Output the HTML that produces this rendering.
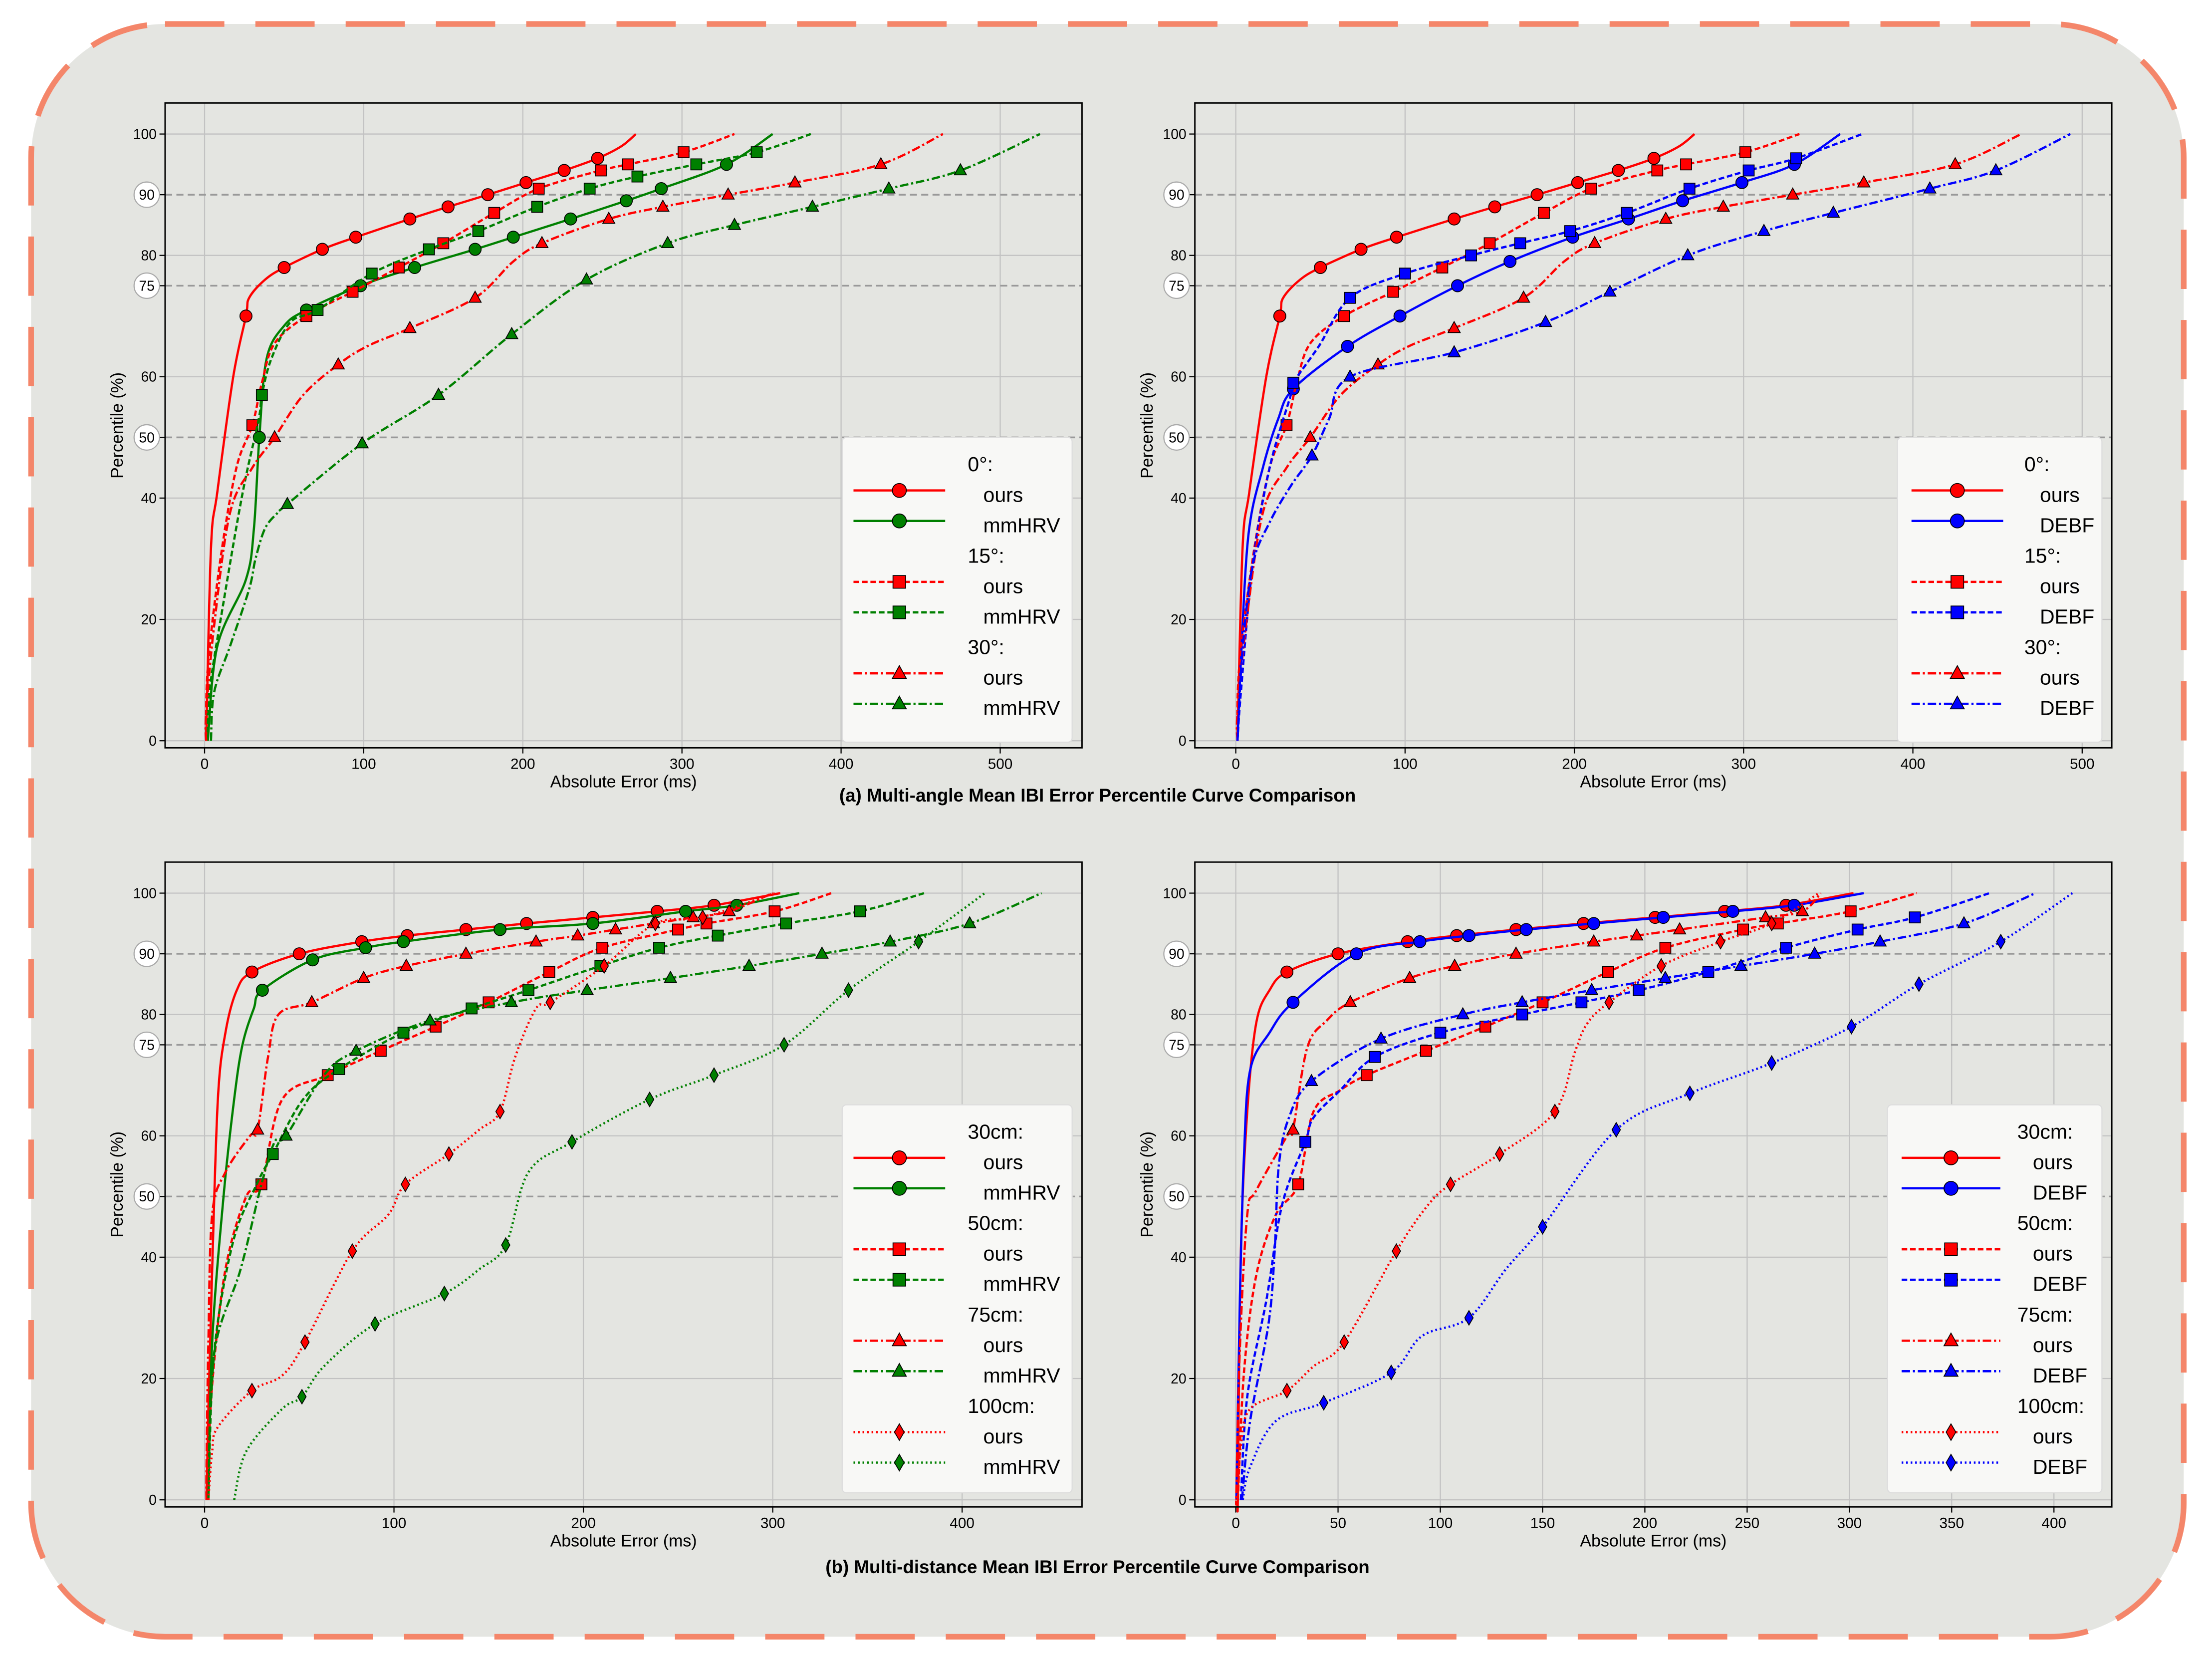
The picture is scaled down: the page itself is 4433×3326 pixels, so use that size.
<!DOCTYPE html>
<html><head><meta charset="utf-8"><style>
html,body{margin:0;padding:0;background:#fff;}
svg{display:block;font-family:"Liberation Sans","DejaVu Sans",sans-serif;}
</style></head><body>
<svg id="fig" width="4433" height="3326" viewBox="0 0 1568 1176.5" xmlns="http://www.w3.org/2000/svg">
<rect x="22" y="17" width="1526" height="1143" rx="95" ry="95" fill="#e4e5e1" stroke="#f4866a" stroke-width="4" stroke-dasharray="42,22"/>
<text x="778" y="568" text-anchor="middle" font-size="13" font-weight="bold">(a) Multi-angle Mean IBI Error Percentile Curve Comparison</text>
<text x="778" y="1115" text-anchor="middle" font-size="13" font-weight="bold">(b) Multi-distance Mean IBI Error Percentile Curve Comparison</text>
<g id="panels"></g>
</svg>
<script>
// ---- data (x = absolute error ms, y = percentile) ----
const oursAngle0 = [[1,0],[4,31.7],[8,41],[18,60],[26,70],[28,73],[38,76],[50,78],[74,81],[95,83],[129,86],[153,88],[178,90],[202,92],[226,94],[247,96],[262,98],[271,100]];
const oursAngle0Mk = [26,50,74,95,129,153,178,202,226,247];
const mmAngle0 = [[2,0],[8,15.6],[26,26.6],[31,35],[34.4,50],[39,63],[50,68.4],[64,71],[98,75],[132,78],[170,81],[194,83],[230,86],[265,89],[287,91],[328,95],[357,100]];
const mmAngle0Mk = [34.4,64,98,132,170,194,230,265,287,328];
const oursAngle15 = [[1,0],[2,12],[10,30],[20,45],[30,52],[36,59],[44,65.5],[64,70],[93,74],[122,78],[150,82],[182,87],[210,91],[249,94],[266,95],[301,97],[333,100]];
const oursAngle15Mk = [30,64,93,122,150,182,210,249,266,301];
const mmAngle15 = [[2,0],[3,8],[12,23],[24,41],[34,53],[36,57],[42,63],[54,69],[71,71],[105,77],[141,81],[172,84],[209,88],[242,91],[272,93],[309,95],[347,97],[381,100]];
const mmAngle15Mk = [36,71,105,141,172,209,242,272,309,347];
const oursAngle30 = [[1,0],[1,4.5],[6,19],[16,37.6],[30,45],[44,50],[62,57],[84,62],[102,65],[129,68],[170,73],[194,79],[212,82],[254,86],[288,88],[329,90],[371,92],[425,95],[464,100]];
const oursAngle30Mk = [44,84,129,170,212,254,288,329,371,425];
const mmAngle30 = [[4,0],[6,8],[16,15.6],[28,25],[32,30],[38,35],[46,37.6],[52,39],[99,49],[147,57],[193,67],[240,76],[291,82],[333,85],[382,88],[430,91],[475,94],[525,100]];
const mmAngle30Mk = [52,99,147,193,240,291,333,382,430,475];
const debfAngle0 = [[1,0],[3,13],[7.5,34],[16,45],[25,53],[34,58],[66,65],[97,70],[131,75],[162,79],[199,83],[232,86],[264,89],[299,92],[330,95],[357,100]];
const debfAngle0Mk = [34,66,97,131,162,199,232,264,299,330];
const debfAngle15 = [[1,0],[3,8],[10,29],[20,45],[32.5,57],[34,59],[49,65],[67.5,73],[100,77],[139,80],[168,82],[197.5,84],[231,87],[268,91],[303,94],[331,96],[370,100]];
const debfAngle15Mk = [34,67.5,100,139,168,197.5,231,268,303,331];
const debfAngle30 = [[1,0],[4,15],[10,29],[20,36],[32.5,42],[45,47],[55,53],[67.5,60],[129,64],[183,69],[221,74],[267,80],[312,84],[353,87],[410,91],[449,94],[493,100]];
const debfAngle30Mk = [45,67.5,129,183,221,267,312,353,410,449];

const oursD30 = [[1,0],[2,15],[4,38],[7,66],[11,77],[17,84],[25,87],[50,90],[83,92],[107,93],[138,94],[170,95],[205,96],[239,97],[269,98],[304,100]];
const oursD30Mk = [25,50,83,107,138,170,205,239,269];
const mmD30 = [[2,0],[4,26],[10,50],[15.6,66],[20,75],[26,81],[30.5,84],[57,89],[85,91],[105,92],[156,94],[205,95],[254,97],[281,98],[314,100]];
const mmD30Mk = [30.5,57,85,105,156,205,254,281];
const oursD50 = [[1,0.7],[4,19],[11,38],[22,50],[30,52],[41,66],[65,70],[93,74],[122,78],[150,82],[182,87],[210,91],[250,94],[265,95],[301,97],[331,100]];
const oursD50Mk = [30,65,93,122,150,182,210,250,265,301];
const mmD50 = [[2,0],[5,24],[15,42.5],[27.5,52],[36,57],[52,66],[71,71],[105,77],[141,81],[171,84],[209,88],[240,91],[271,93],[307,95],[346,97],[380,100]];
const mmD50Mk = [36,71,105,141,171,209,240,271,307,346];
const oursD75 = [[1,0],[1,5],[2,26],[4,47],[11,54],[24,60],[28,61],[33.5,73],[39,80],[56.6,82],[84,86],[106.5,88],[138,90],[175,92],[197,93],[217,94],[237,95],[258,96],[277,97],[300,100]];
const oursD75Mk = [28,56.6,84,106.5,138,175,197,217,237,258,277];
const mmD75 = [[2,0],[5,24],[19,38],[30,52],[37,59],[43,60],[63,70],[80,74],[119,79],[162,82],[202,84],[246,86],[287.5,88],[326,90],[362,92],[404,95],[442,100]];
const mmD75Mk = [43,80,119,162,202,246,287.5,326,362,404];
const oursD100 = [[2,0],[4,8],[7,12],[25,18],[41,20.5],[53,26],[78,41],[97,47],[106,52],[129,57],[145,61],[156,64],[164,73],[175,81],[182.5,82],[211,88],[238,95],[263,96],[301,100]];
const oursD100Mk = [25,53,78,106,129,156,182.5,211,238,263];
const mmD100 = [[15.6,0],[22,8],[41,15],[51.4,17],[63,22],[90,29],[126.6,34],[145,38],[159,42],[171,54],[194,59],[235,66],[269,70],[306,75],[340,84],[377,92],[412,100]];
const mmD100Mk = [51.4,90,126.6,159,194,235,269,306,340,377];

const oursB30 = [[1,0],[1,1.5],[2.5,41],[5.6,64],[10,78.6],[16.5,84],[25,87],[50,90],[84,92],[108,93],[137,94],[170,95],[205,96],[239,97],[269,98],[302,100]];
const oursB30Mk = [25,50,84,108,137,170,205,239,269];
const debfB30 = [[0.3,0],[2,33],[4,56.6],[7,70.8],[16.5,77],[28,82],[59,90],[90,92],[114,93],[142,94],[175,95],[209,96],[243,97],[273,98],[307,100]];
const debfB30Mk = [28,59,90,114,142,175,209,243,273];
const oursB50 = [[1,0],[4,21],[10,37],[19.6,47],[30.5,52],[38,64],[51,67.5],[64,70],[93,74],[122,78],[150,82],[182,87],[210,91],[248,94],[265,95],[300.6,97],[333,100]];
const oursB50Mk = [30.5,64,93,122,150,182,210,248,265,300.6];
const debfB50 = [[2.5,0],[5.6,17],[15,33],[22.7,48.7],[34,59],[38,63],[51,67.5],[68,73],[100,77],[140,80],[169,82],[197,84],[231,87],[269,91],[304,94],[332,96],[368.5,100]];
const debfB50Mk = [34,68,100,140,169,197,231,269,304,332];
const oursB75 = [[0.3,0],[0.3,1.5],[2,25],[5.6,47],[10,51],[26,60.5],[28,61],[35,74.6],[44.5,79],[56,82],[85,86],[107,88],[137,90],[175,92],[196,93],[217,94],[259,96],[277,97],[286,100]];
const oursB75Mk = [28,56,85,107,137,175,196,217,259,277];
const debfB75 = [[3,0],[7,13],[16,29],[19,41],[21,55],[26,63],[37,69],[71,76],[111,80],[140,82],[174,84],[210,86],[247,88],[283,90],[315,92],[356,95],[391,100]];
const debfB75Mk = [37,71,111,140,174,210,247,283,315,356];
const oursB100 = [[1,0],[2.5,9],[7,15],[25,18],[38,22],[53,26],[78.5,41],[94,48.6],[105,52],[129,57],[156,64],[166,74],[172,78.6],[182.5,82],[208,88],[237,92],[262,95],[285,100]];
const oursB100Mk = [25,53,78.5,105,129,156,182.5,208,237,262];
const debfB100 = [[3.4,0],[7,5.4],[19.6,13],[43,16],[76,21],[91,27],[114,30],[132,38],[150,45],[186,61],[222,67],[262,72],[301,78],[334,85],[374,92],[409,100]];
const debfB100Mk = [43,76,114,150,186,222,262,301,334,374];

const yTicks = [0,20,40,50,60,75,80,90,100];
const yGrid = [0,20,40,60,80,100];
const yRef = [50,75,90];

// ---- styles ----
const RED='#ff0000', GREEN='#008000', BLUE='#0000ff';
const DASH={solid:'',dashed:'4,2',dashdot:'6,2,1.5,2',dotted:'1.2,2'};
const NS='http://www.w3.org/2000/svg';
function mk(tag,attrs,parent){const e=document.createElementNS(NS,tag);for(const k in attrs)e.setAttribute(k,attrs[k]);if(parent)parent.appendChild(e);return e;}

const panels=[
 {name:'angle-vs-mmhrv',box:[117,73,767,530],x0:145,xs:1.128,xmax:500,xstep:100,
  groups:['0°:','15°:','30°:'],legend:[597,310,760,526],lineX:[605,670],textX:686,base:'mmHRV',
  series:[[oursAngle0,oursAngle0Mk,RED,'solid','circle'],[mmAngle0,mmAngle0Mk,GREEN,'solid','circle'],
   [oursAngle15,oursAngle15Mk,RED,'dashed','square'],[mmAngle15,mmAngle15Mk,GREEN,'dashed','square'],
   [oursAngle30,oursAngle30Mk,RED,'dashdot','triangle'],[mmAngle30,mmAngle30Mk,GREEN,'dashdot','triangle']]},
 {name:'angle-vs-debf',box:[847,73,1497,530],x0:876,xs:1.2,xmax:500,xstep:100,
  groups:['0°:','15°:','30°:'],legend:[1345,310,1490,526],lineX:[1355,1420],textX:1435,base:'DEBF',
  series:[[oursAngle0,oursAngle0Mk,RED,'solid','circle'],[debfAngle0,debfAngle0Mk,BLUE,'solid','circle'],
   [oursAngle15,oursAngle15Mk,RED,'dashed','square'],[debfAngle15,debfAngle15Mk,BLUE,'dashed','square'],
   [oursAngle30,oursAngle30Mk,RED,'dashdot','triangle'],[debfAngle30,debfAngle30Mk,BLUE,'dashdot','triangle']]},
 {name:'distance-vs-mmhrv',box:[117,611,767,1068],x0:145,xs:1.3425,xmax:400,xstep:100,
  groups:['30cm:','50cm:','75cm:','100cm:'],legend:[597,783,760,1058],lineX:[605,670],textX:686,base:'mmHRV',
  series:[[oursD30,oursD30Mk,RED,'solid','circle'],[mmD30,mmD30Mk,GREEN,'solid','circle'],
   [oursD50,oursD50Mk,RED,'dashed','square'],[mmD50,mmD50Mk,GREEN,'dashed','square'],
   [oursD75,oursD75Mk,RED,'dashdot','triangle'],[mmD75,mmD75Mk,GREEN,'dashdot','triangle'],
   [oursD100,oursD100Mk,RED,'dotted','diamond'],[mmD100,mmD100Mk,GREEN,'dotted','diamond']]},
 {name:'distance-vs-debf',box:[847,611,1497,1068],x0:876,xs:1.45,xmax:400,xstep:50,
  groups:['30cm:','50cm:','75cm:','100cm:'],legend:[1338,783,1490,1058],lineX:[1348,1418],textX:1430,base:'DEBF',
  series:[[oursB30,oursB30Mk,RED,'solid','circle'],[debfB30,debfB30Mk,BLUE,'solid','circle'],
   [oursB50,oursB50Mk,RED,'dashed','square'],[debfB50,debfB50Mk,BLUE,'dashed','square'],
   [oursB75,oursB75Mk,RED,'dashdot','triangle'],[debfB75,debfB75Mk,BLUE,'dashdot','triangle'],
   [oursB100,oursB100Mk,RED,'dotted','diamond'],[debfB100,debfB100Mk,BLUE,'dotted','diamond']]}
];

function marker(g,shape,cx,cy,color,s){
 let e;
 if(shape==='circle') e=mk('circle',{cx,cy,r:s*0.55},g);
 else if(shape==='square') e=mk('rect',{x:cx-s*0.5,y:cy-s*0.5,width:s,height:s},g);
 else if(shape==='triangle') e=mk('polygon',{points:`${cx},${cy-s*0.6} ${cx-s*0.55},${cy+s*0.4} ${cx+s*0.55},${cy+s*0.4}`},g);
 else e=mk('polygon',{points:`${cx},${cy-s*0.65} ${cx-s*0.38},${cy} ${cx},${cy+s*0.65} ${cx+s*0.38},${cy}`},g);
 e.setAttribute('fill',color);e.setAttribute('stroke','#000');e.setAttribute('stroke-width','0.6');
 
 
 return e;
}
function interpY(pts,x){
 for(let i=0;i<pts.length-1;i++){const a=pts[i],b=pts[i+1];
  if(x>=Math.min(a[0],b[0])&&x<=Math.max(a[0],b[0])&&a[0]!==b[0]){return a[1]+(b[1]-a[1])*(x-a[0])/(b[0]-a[0]);}}
 let best=pts[0];for(const p of pts)if(Math.abs(p[0]-x)<Math.abs(best[0]-x))best=p;return best[1];
}
function smoothPath(P){
 let d=`M${P[0][0].toFixed(2)},${P[0][1].toFixed(2)}`;
 for(let i=0;i<P.length-1;i++){
  const p0=P[i-1]||P[i],p1=P[i],p2=P[i+1],p3=P[i+2]||P[i+1];
  const c1=[p1[0]+(p2[0]-p0[0])/6,p1[1]+(p2[1]-p0[1])/6];
  const c2=[p2[0]-(p3[0]-p1[0])/6,p2[1]-(p3[1]-p1[1])/6];
  d+=` C${c1[0].toFixed(2)},${c1[1].toFixed(2)} ${c2[0].toFixed(2)},${c2[1].toFixed(2)} ${p2[0].toFixed(2)},${p2[1].toFixed(2)}`;
 }
 return d;
}

const root=document.getElementById('panels');
panels.forEach(p=>{
 const [L,T,R,B]=p.box;
 const Y0=B-5, Y100=T+22;
 const sx=v=>p.x0+v*p.xs, sy=v=>Y0-(v/100)*(Y0-Y100);
 const g=mk('g',{},root);
 
 
 const frame=mk('rect',{x:L,y:T,width:R-L,height:B-T,fill:'#e4e5e1'},g);
 
 
 for(let v=0;v<=p.xmax;v+=p.xstep){
  const gl=mk('line',{x1:sx(v),x2:sx(v),y1:T,y2:B,stroke:'#c2c2c2','stroke-width':0.8},g);
  
  
  mk('line',{x1:sx(v),x2:sx(v),y1:B,y2:B+4,stroke:'#000','stroke-width':0.8},g);
  const t=mk('text',{x:sx(v),y:B+15,'text-anchor':'middle','font-size':10.5},g);t.textContent=v;
  
  
 }
 yGrid.forEach(v=>{
  const gl=mk('line',{x1:L,x2:R,y1:sy(v),y2:sy(v),stroke:'#c2c2c2','stroke-width':0.8},g);
  
  
 });
 yRef.forEach(v=>{
  const rl=mk('line',{x1:L,x2:R,y1:sy(v),y2:sy(v),stroke:'#999','stroke-width':1.2,'stroke-dasharray':'5,3'},g);
  
  
 });
 yTicks.forEach(v=>{
  mk('line',{x1:L-4,x2:L,y1:sy(v),y2:sy(v),stroke:'#000','stroke-width':0.8},g);
  if(yRef.includes(v)){
   const c=mk('ellipse',{cx:L-13,cy:sy(v),rx:9,ry:9,fill:'#fff',stroke:'#aaa','stroke-width':0.8},g);
   
   
  }
  const t=mk('text',{x:yRef.includes(v)?L-13:L-6,y:sy(v)+3.5,'text-anchor':yRef.includes(v)?'middle':'end','font-size':10},g);
  t.textContent=v;
  
  
 });
 const xt=mk('text',{x:(L+R)/2,y:B+28,'text-anchor':'middle','font-size':12},g);xt.textContent='Absolute Error (ms)';
 
 
 const yl=mk('text',{x:0,y:0,'text-anchor':'middle','font-size':12,transform:`translate(${L-30},${(T+B)/2}) rotate(-90)`},g);yl.textContent='Percentile (%)';
 
 
 p.series.forEach((s,i)=>{
  const [pts,mks,color,style,shape]=s;
  const sg=mk('g',{},g);
  
  
  const P=pts.map(q=>[sx(q[0]),sy(q[1])]);
  const path=mk('path',{d:smoothPath(P),fill:'none',stroke:color,'stroke-width':1.6,'stroke-dasharray':DASH[style]},sg);
  
  
  mks.forEach(x=>marker(sg,shape,sx(x),sy(interpY(pts,x)),color,7.8));
 });
 mk('rect',{x:L,y:T,width:R-L,height:B-T,fill:'none',stroke:'#000','stroke-width':1},g);
 const [lx1,ly1,lx2,ly2]=p.legend;
 const lg=mk('g',{},g);
 
 
 mk('rect',{x:lx1,y:ly1,width:lx2-lx1,height:ly2-ly1,rx:3,fill:'#f8f8f6',stroke:'#ddd','stroke-width':0.8},lg);
 const rowH=21.6;
 p.groups.forEach((gname,gi)=>{
  const ch=ly1+19+rowH*(gi*3);
  const th=mk('text',{x:p.textX,y:ch+5,'font-size':14.5},lg);th.textContent=gname;
  
  
  [0,1].forEach(k=>{
   const s=p.series[gi*2+k];
   const cy=ly1+19+rowH*(gi*3+1+k);
   const yy=cy-3;
   const ln=mk('line',{x1:p.lineX[0],x2:p.lineX[1],y1:yy,y2:yy,stroke:s[2],'stroke-width':1.6,'stroke-dasharray':DASH[s[3]]},lg);
   
   
   marker(lg,s[4],(p.lineX[0]+p.lineX[1])/2,yy,s[2],9);
   const tt=mk('text',{x:p.textX+11,y:cy+5,'font-size':14.5},lg);tt.textContent=k===0?'ours':p.base;
   
   
  });
 });
});
</script>
</body></html>
